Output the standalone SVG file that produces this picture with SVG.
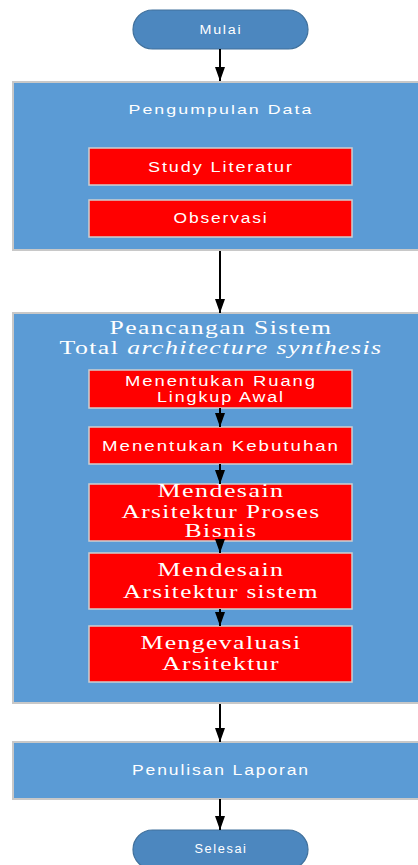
<svg xmlns="http://www.w3.org/2000/svg" width="418" height="865" viewBox="0 0 418 865">
  <style>
    .terminal { fill: #4c87bf; stroke: #41719c; stroke-width: 1.2; }
    .stage { fill: #5b9bd5; stroke: #c8c8c8; stroke-width: 2; }
    .task { fill: #ff0000; stroke: #cfcfcf; stroke-width: 1.5; }
    .sans { font-family: "Liberation Sans", Arial, sans-serif; fill: #ffffff; text-anchor: middle; letter-spacing: 1.5px; }
    .serif { font-family: "Liberation Serif", "Times New Roman", serif; fill: #ffffff; text-anchor: middle; letter-spacing: 1px; }
    .flow { stroke: #000000; stroke-width: 2; fill: none; marker-end: url(#arrow); }
  </style>
  <defs>
    <marker id="arrow" viewBox="0 0 14 10" refX="14" refY="5" markerWidth="14" markerHeight="10" markerUnits="userSpaceOnUse" orient="auto">
      <path d="M0,0 L14,5 L0,10 Z" fill="#000000"/>
    </marker>
  </defs>

  <rect width="418" height="865" fill="#ffffff"/>

  <g id="mulai">
    <rect class="terminal" x="133" y="10" width="175" height="39" rx="19.5" ry="19.5"/>
    <text class="sans" x="221" y="34" font-size="12" textLength="43" lengthAdjust="spacingAndGlyphs">Mulai</text>
  </g>

  <g id="pengumpulan-data">
    <rect class="stage" x="13" y="82" width="410" height="168"/>
    <text class="sans" x="221" y="114" font-size="13" textLength="185" lengthAdjust="spacingAndGlyphs">Pengumpulan Data</text>
  </g>

  <g id="study-literatur">
    <rect class="task" x="89" y="148" width="263" height="37"/>
    <text class="sans" x="221" y="172" font-size="14" textLength="146" lengthAdjust="spacingAndGlyphs">Study Literatur</text>
  </g>

  <g id="observasi">
    <rect class="task" x="89" y="200" width="263" height="37"/>
    <text class="sans" x="221" y="223" font-size="14" textLength="95" lengthAdjust="spacingAndGlyphs">Observasi</text>
  </g>

  <g id="peancangan-sistem">
    <rect class="stage" x="13" y="313" width="410" height="390"/>
    <text class="serif" x="221" y="334" font-size="18" textLength="223" lengthAdjust="spacingAndGlyphs">Peancangan Sistem</text>
    <text class="serif" x="221" y="354" font-size="18" textLength="323" lengthAdjust="spacingAndGlyphs">Total <tspan font-style="italic">architecture synthesis</tspan></text>
  </g>

  <g id="ruang-lingkup">
    <rect class="task" x="89" y="370" width="263" height="38"/>
    <text class="sans" x="221" y="386" font-size="14" textLength="192" lengthAdjust="spacingAndGlyphs">Menentukan Ruang</text>
    <text class="sans" x="221" y="402" font-size="14" textLength="128" lengthAdjust="spacingAndGlyphs">Lingkup Awal</text>
  </g>

  <g id="kebutuhan">
    <rect class="task" x="89" y="427" width="263" height="37"/>
    <text class="sans" x="221" y="450.5" font-size="14" textLength="238" lengthAdjust="spacingAndGlyphs">Menentukan Kebutuhan</text>
  </g>

  <g id="proses-bisnis">
    <rect class="task" x="89" y="484" width="263" height="57"/>
    <text class="serif" x="221" y="497" font-size="18" textLength="127" lengthAdjust="spacingAndGlyphs">Mendesain</text>
    <text class="serif" x="221" y="518" font-size="18" textLength="199" lengthAdjust="spacingAndGlyphs">Arsitektur Proses</text>
    <text class="serif" x="221" y="537" font-size="18" textLength="73" lengthAdjust="spacingAndGlyphs">Bisnis</text>
  </g>

  <g id="arsitektur-sistem">
    <rect class="task" x="89" y="553" width="263" height="56"/>
    <text class="serif" x="221" y="576" font-size="18" textLength="127" lengthAdjust="spacingAndGlyphs">Mendesain</text>
    <text class="serif" x="221" y="598" font-size="18" textLength="196" lengthAdjust="spacingAndGlyphs">Arsitektur sistem</text>
  </g>

  <g id="evaluasi">
    <rect class="task" x="89" y="626" width="263" height="56"/>
    <text class="serif" x="221" y="649" font-size="18" textLength="161" lengthAdjust="spacingAndGlyphs">Mengevaluasi</text>
    <text class="serif" x="221" y="670" font-size="18" textLength="118" lengthAdjust="spacingAndGlyphs">Arsitektur</text>
  </g>

  <g id="penulisan-laporan">
    <rect class="stage" x="13" y="742" width="410" height="57"/>
    <text class="sans" x="221" y="775" font-size="14" textLength="178" lengthAdjust="spacingAndGlyphs">Penulisan Laporan</text>
  </g>

  <g id="selesai">
    <rect class="terminal" x="133" y="830" width="175" height="39" rx="19.5" ry="19.5"/>
    <text class="sans" x="221" y="853" font-size="12" textLength="53" lengthAdjust="spacingAndGlyphs">Selesai</text>
  </g>

  <!-- connectors drawn last so the short links inside the design stage stay visible -->
  <g id="connectors">
    <line class="flow" x1="220" y1="49" x2="220" y2="81"/>
    <line class="flow" x1="220" y1="251" x2="220" y2="313"/>
    <line class="flow" x1="220" y1="408" x2="220" y2="427"/>
    <line class="flow" x1="220" y1="464" x2="220" y2="484"/>
    <line class="flow" x1="220" y1="541" x2="220" y2="553"/>
    <line class="flow" x1="220" y1="609" x2="220" y2="626"/>
    <line class="flow" x1="220" y1="704" x2="220" y2="742"/>
    <line class="flow" x1="220" y1="799" x2="220" y2="830"/>
  </g>
</svg>
